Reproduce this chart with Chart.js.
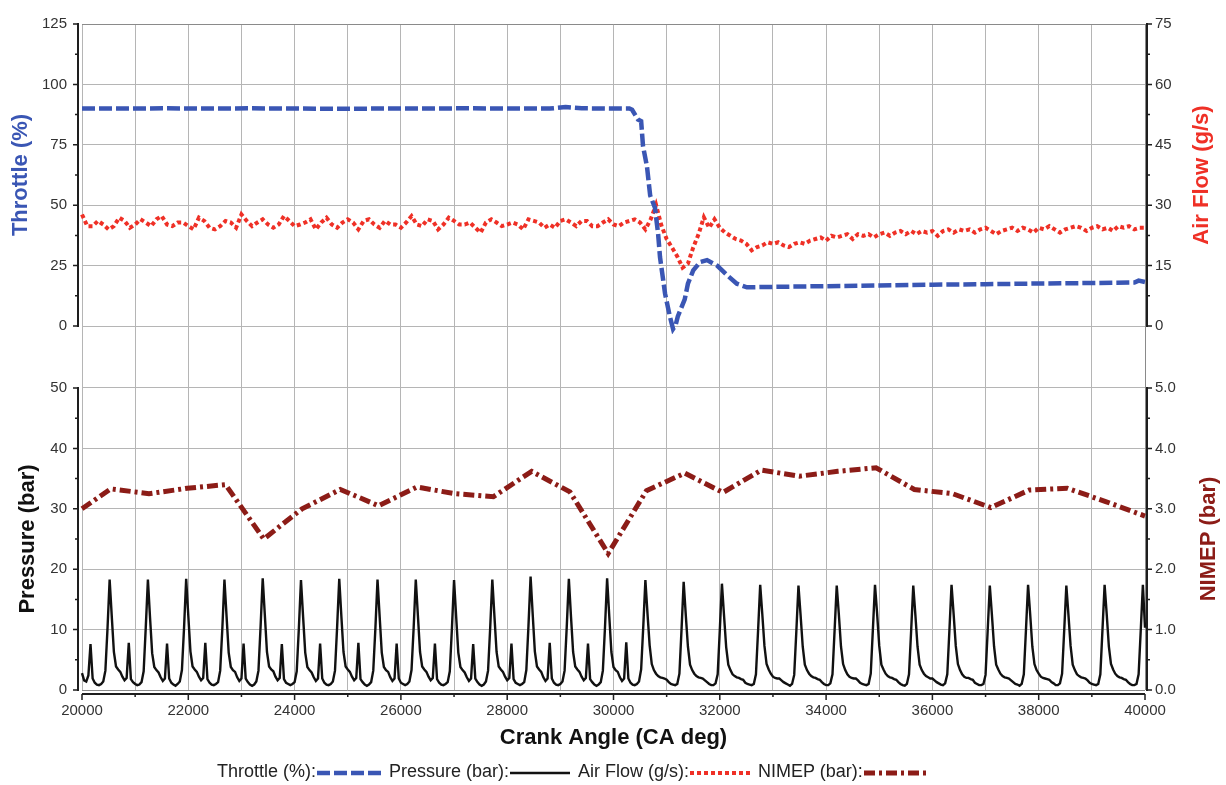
<!DOCTYPE html>
<html>
<head>
<meta charset="utf-8">
<title>Throttle transient</title>
<script src="https://cdn.jsdelivr.net/npm/chart.js@4.4.1/dist/chart.umd.min.js"></script>
<style>
  html, body { margin: 0; padding: 0; background: #fff; }
  #wrap { position: relative; width: 1226px; height: 785px; }
  #legend {
    position: absolute; left: 217px; top: 761px;
    display: flex; align-items: center; white-space: nowrap;
    font: 18px "Liberation Sans", Arial, sans-serif; color: #222;
  }
  #legend .item { display: flex; align-items: center; margin-right: 8px; }
  #legend svg { margin-left: 1px; }
</style>
</head>
<body>
<div id="wrap">
  <canvas id="engineChart" width="1226" height="785"></canvas>
  <div id="legend"></div>
</div>
<script>
// ---- data ----

// throttle (%) vs crank angle
const throttleAngles = [20000, 20800, 21600, 22400, 23200, 24000, 24800, 25600, 26400, 27200,
  28000, 28800, 29100, 29400, 30000, 30300, 30350, 30460, 30520, 30555,
  30630, 30690, 30780, 30840, 30875, 30970, 31060, 31120, 31170, 31210,
  31340, 31400, 31500, 31630, 31760, 31950, 32140, 32320, 32510, 33000,
  34000, 35000, 36000, 37000, 38000, 39000, 39800, 39880, 40000];
const throttleValues = [90.0, 90.0, 90.1, 90.0, 90.1, 90.0, 89.9, 90.0, 90.0, 90.1,
  90.0, 90.0, 90.6, 90.1, 90.0, 90.0, 89.5, 85.5, 84.8, 74.5,
  66.0, 54.0, 49.0, 38.0, 28.5, 13.4, 4.0, -1.2, 0.5, 4.0,
  11.0, 17.5, 23.0, 26.5, 27.3, 25.0, 21.0, 17.5, 16.0, 16.2,
  16.5, 16.8, 17.1, 17.3, 17.6, 17.8, 18.0, 18.8, 18.2];

// cylinder pressure (bar), one sample every 40 CA deg from 20000
const pressureStart = 20000;
const pressureStep = 40;
const pressureValues = [
  2.8, 1.6, 1.4, 2.4, 7.6,
  1.9, 1.2, 0.9, 0.8, 1.0, 1.4, 3.2, 10.2, 18.3, 12.2, 6.3, 3.9, 3.4, 3.0, 2.2, 1.6, 2.0, 7.8,
  1.8, 1.3, 1.0, 0.8, 0.9, 1.3, 3.1, 10.4, 18.3, 12.0, 6.1, 3.8, 3.3, 2.9, 2.1, 1.5, 1.9, 7.7,
  1.9, 1.2, 0.9, 0.7, 1.0, 1.4, 3.3, 10.3, 18.4, 12.3, 6.4, 3.9, 3.4, 3.0, 2.2, 1.6, 2.0, 7.8,
  1.8, 1.2, 0.9, 0.8, 1.0, 1.3, 3.2, 10.1, 18.3, 12.2, 6.2, 3.8, 3.3, 3.0, 2.1, 1.5, 1.9, 7.7,
  1.9, 1.3, 0.9, 0.7, 0.9, 1.4, 3.2, 10.5, 18.5, 12.4, 6.3, 3.9, 3.4, 3.1, 2.2, 1.6, 2.0, 7.6,
  1.8, 1.2, 1.0, 0.8, 1.0, 1.3, 3.1, 10.2, 18.2, 12.1, 6.2, 3.8, 3.3, 2.9, 2.1, 1.5, 1.9, 7.7,
  1.9, 1.2, 0.9, 0.8, 1.0, 1.4, 3.2, 10.4, 18.4, 12.2, 6.3, 3.9, 3.4, 3.0, 2.2, 1.6, 2.0, 7.8,
  1.8, 1.3, 0.9, 0.7, 0.9, 1.3, 3.2, 10.2, 18.3, 12.2, 6.2, 3.8, 3.3, 3.0, 2.1, 1.5, 1.9, 7.7,
  1.9, 1.2, 1.0, 0.8, 1.0, 1.4, 3.3, 10.3, 18.3, 12.3, 6.3, 3.9, 3.4, 3.0, 2.2, 1.6, 2.0, 7.7,
  1.8, 1.2, 0.9, 0.8, 1.0, 1.3, 3.1, 10.2, 18.2, 12.1, 6.2, 3.8, 3.3, 2.9, 2.1, 1.5, 1.9, 7.6,
  1.9, 1.3, 0.9, 0.7, 0.9, 1.4, 3.2, 10.3, 18.3, 12.2, 6.3, 3.9, 3.4, 3.0, 2.2, 1.6, 2.0, 7.7,
  1.8, 1.2, 1.0, 0.8, 1.0, 1.3, 3.3, 10.6, 18.8, 12.5, 6.4, 3.9, 3.4, 3.0, 2.1, 1.5, 1.9, 7.8,
  1.9, 1.2, 0.9, 0.8, 1.0, 1.4, 3.2, 10.4, 18.4, 12.2, 6.3, 3.9, 3.4, 3.0, 2.2, 1.6, 2.0, 7.7,
  1.8, 1.3, 0.9, 0.7, 0.9, 1.3, 3.2, 10.4, 18.5, 12.3, 6.3, 3.8, 3.3, 3.0, 2.1, 1.5, 1.9, 7.9,
  1.9, 1.2, 0.9, 0.8, 1.0, 1.4, 3.4, 10.5, 18.2, 12.6, 7.4, 4.3, 3.3, 2.7, 2.3, 2.1, 2.0, 1.9,
  1.7, 1.3, 1.0, 0.9, 0.8, 1.0, 2.7, 10.0, 17.9, 12.4, 7.2, 4.2, 3.3, 2.7, 2.3, 2.1, 2.0, 1.9,
  1.6, 1.3, 1.0, 0.8, 0.8, 1.1, 2.6, 9.9, 17.6, 12.3, 7.1, 4.2, 3.3, 2.6, 2.3, 2.1, 2.0, 1.8,
  1.7, 1.2, 1.0, 0.9, 0.8, 1.0, 2.6, 9.8, 17.4, 12.5, 7.3, 4.3, 3.4, 2.7, 2.2, 2.0, 1.9, 1.9,
  1.6, 1.3, 1.1, 0.9, 0.7, 1.0, 2.5, 9.7, 17.3, 12.4, 7.2, 4.2, 3.3, 2.7, 2.3, 2.1, 2.0, 1.8,
  1.7, 1.3, 1.0, 0.8, 0.8, 1.1, 2.6, 9.9, 17.3, 12.5, 7.2, 4.3, 3.3, 2.6, 2.2, 2.0, 1.9, 1.9,
  1.6, 1.2, 1.0, 0.9, 0.8, 1.0, 2.7, 10.0, 17.4, 12.6, 7.3, 4.2, 3.4, 2.7, 2.3, 2.1, 2.0, 1.8,
  1.7, 1.3, 1.0, 0.8, 0.7, 1.0, 2.6, 9.8, 17.3, 12.4, 7.2, 4.2, 3.3, 2.7, 2.3, 2.1, 1.9, 1.9,
  1.6, 1.3, 1.1, 0.9, 0.8, 1.1, 2.6, 9.9, 17.4, 12.5, 7.3, 4.3, 3.3, 2.6, 2.2, 2.0, 2.0, 1.8,
  1.7, 1.2, 1.0, 0.8, 0.8, 1.0, 2.5, 9.8, 17.3, 12.4, 7.2, 4.2, 3.4, 2.7, 2.3, 2.1, 2.0, 1.9,
  1.6, 1.3, 1.0, 0.9, 0.7, 1.0, 2.6, 9.9, 17.4, 12.5, 7.2, 4.3, 3.3, 2.7, 2.2, 2.0, 1.9, 1.8,
  1.7, 1.3, 1.1, 0.8, 0.8, 1.1, 2.7, 9.9, 17.3, 12.4, 7.3, 4.2, 3.3, 2.6, 2.3, 2.1, 2.0, 1.9,
  1.6, 1.2, 1.0, 0.9, 0.8, 1.0, 2.6, 10.0, 17.4, 12.5, 7.2, 4.3, 3.4, 2.7, 2.3, 2.1, 2.0, 1.8,
  1.7, 1.3, 1.0, 0.8, 0.8, 1.0, 2.6, 9.9, 17.4, 10.3
];

// air flow (g/s), one sample every 100 CA deg from 20000
const airflowStart = 20000;
const airflowStep = 100;
const airflowValues = [
  27.7, 24.8, 24.8, 26.1, 25.2, 24.0, 24.8, 26.9, 26.1, 24.4,
  25.2, 26.5, 25.7, 24.8, 26.5, 27.3, 25.2, 24.8, 25.7, 25.7,
  24.8, 24.0, 26.9, 26.1, 24.4, 24.0, 24.8, 26.1, 25.7, 24.4,
  27.7, 26.1, 24.8, 25.7, 26.5, 25.2, 24.4, 25.2, 27.3, 26.1,
  24.8, 25.2, 25.7, 26.5, 24.0, 25.7, 26.9, 25.2, 24.4, 25.7,
  26.5, 25.7, 24.0, 26.1, 26.5, 25.2, 24.4, 26.1, 25.2, 25.2,
  24.4, 25.7, 27.3, 25.2, 24.8, 26.5, 26.1, 24.0, 25.2, 26.9,
  26.1, 25.2, 25.2, 25.7, 24.4, 23.2, 25.7, 26.5, 25.7, 24.8,
  25.2, 25.7, 25.2, 24.0, 26.5, 26.1, 25.7, 24.4, 25.2, 24.4,
  26.1, 26.5, 25.7, 24.8, 26.1, 26.1, 24.8, 24.8, 25.7, 26.5,
  25.2, 24.8, 25.7, 26.1,
  26.5, 25.7, 24.0, 26.5, 30.1, 25.0, 21.6, 19.5, 17.3, 14.5,
  15.5, 19.5, 22.8, 27.0, 24.4, 26.5, 24.4, 23.2, 22.4, 21.6,
  21.2, 20.4, 18.8, 19.6, 20.0, 20.8, 20.4, 20.8, 20.0, 19.6,
  20.4, 20.8, 20.4, 21.2, 21.6, 22.0, 21.2, 22.4, 22.0, 22.4,
  22.8, 21.6, 22.8, 22.4, 22.8, 22.0, 22.8, 23.2, 22.4, 23.2,
  23.6, 22.8, 23.6, 22.8, 23.6, 23.2, 23.6, 22.4, 23.6, 24.0,
  23.2, 24.0, 23.6, 24.0, 23.2, 24.0, 24.4, 23.6, 22.8, 23.6,
  24.0, 24.4, 23.6, 24.4, 24.0, 23.2, 24.4, 24.0, 24.8, 24.0,
  23.2, 24.0, 24.4, 24.8, 24.4, 23.6, 24.4, 24.8, 24.0, 24.4,
  23.6, 24.8, 24.4, 24.8, 24.0, 24.4, 24.4
];

// NIMEP (bar), one value per engine cycle
const nimepAngles = [20000, 20540, 21260, 21980, 22700, 23420, 24140, 24860, 25580, 26300,
  27020, 27740, 28460, 29180, 29900, 30620, 31340, 32060, 32780, 33500,
  34220, 34940, 35660, 36380, 37100, 37820, 38540, 39260, 40000];
const nimepValues = [3.00, 3.33, 3.25, 3.34, 3.40, 2.50, 3.00, 3.32, 3.05, 3.36,
  3.25, 3.20, 3.62, 3.28, 2.26, 3.30, 3.59, 3.27, 3.64, 3.54,
  3.62, 3.68, 3.32, 3.25, 3.02, 3.31, 3.34, 3.12, 2.88];

// ---- styling ----
const FONT = '"Liberation Sans", Arial, Helvetica, sans-serif';
const BLUE = '#3a56b4';
const RED = '#ef3026';
const DARK_RED = '#8c1c17';
const GRID = '#b5b5b5';
const EDGE = '#8a8a8a';
const AXIS = '#1e1e1e';
const TICK_TEXT = '#333';

const tickFont = { family: FONT, size: 15 };
const titleFont = { family: FONT, size: 22, weight: 'bold' };

const toPoints = (xs, ys) => ys.map((y, i) => ({ x: xs[i], y }));
const pressureAngles = pressureValues.map((_, i) => pressureStart + i * pressureStep);
const airflowAngles = airflowValues.map((_, i) => airflowStart + i * airflowStep);

const series = [
  { label: 'Throttle (%)', axis: 'yThr', xs: throttleAngles, ys: throttleValues,
    color: BLUE, width: 4.5, dash: [13, 4] },
  { label: 'Pressure (bar)', axis: 'yPres', xs: pressureAngles, ys: pressureValues,
    color: '#111', width: 2.4, dash: [] },
  { label: 'Air Flow (g/s)', axis: 'yAir', xs: airflowAngles, ys: airflowValues,
    color: RED, width: 4, dash: [4, 3] },
  { label: 'NIMEP (bar)', axis: 'yNim', xs: nimepAngles, ys: nimepValues,
    color: DARK_RED, width: 5, dash: [11, 4, 3, 4] }
];

// axis lines with major/minor ticks, offset from the plot frame, plus the right titles
const axisFrame = {
  id: 'axisFrame',
  afterDraw(chart) {
    const { ctx, chartArea: area, scales } = chart;
    ctx.save();
    ctx.strokeStyle = AXIS;

    ['yThr', 'yPres', 'yAir', 'yNim'].forEach(id => {
      const s = scales[id];
      const onLeft = s.position === 'left';
      const x0 = onLeft ? area.left - 4 : area.right + 2;
      const dir = onLeft ? -1 : 1;
      const step = s.options.ticks.stepSize;
      ctx.lineWidth = 2;
      ctx.beginPath();
      ctx.moveTo(x0, s.getPixelForValue(s.max) - 1);
      ctx.lineTo(x0, s.getPixelForValue(s.min) + 1);
      ctx.stroke();
      ctx.lineWidth = 1.5;
      ctx.beginPath();
      for (let k = 0; k <= Math.round((s.max - s.min) / step) * 2; k++) {
        const y = s.getPixelForValue(s.min + k * step / 2);
        ctx.moveTo(x0, y);
        ctx.lineTo(x0 + dir * (k % 2 === 0 ? 5 : 3), y);
      }
      ctx.stroke();
    });

    const sx = scales.x;
    const y0 = area.bottom + 4;
    ctx.lineWidth = 2;
    ctx.beginPath();
    ctx.moveTo(area.left, y0);
    ctx.lineTo(area.right, y0);
    ctx.stroke();
    ctx.lineWidth = 1.5;
    ctx.beginPath();
    sx.ticks.forEach(t => {
      const x = sx.getPixelForValue(t.value);
      ctx.moveTo(x, y0);
      ctx.lineTo(x, y0 + (t.value % 2000 === 0 ? 6 : 3));
    });
    ctx.stroke();

    // right-hand titles read bottom to top, like the left ones
    [['yAir', 'Air Flow (g/s)', RED, 24], ['yNim', 'NIMEP (bar)', DARK_RED, 17]].forEach(([id, text, color, inset]) => {
      const s = scales[id];
      const cy = (s.getPixelForValue(s.max) + s.getPixelForValue(s.min)) / 2;
      ctx.save();
      ctx.translate(s.right - inset, cy);
      ctx.rotate(-Math.PI / 2);
      ctx.fillStyle = color;
      ctx.font = 'bold 22px ' + FONT;
      ctx.textAlign = 'center';
      ctx.textBaseline = 'middle';
      ctx.fillText(text, 0, 0);
      ctx.restore();
    });
    ctx.restore();
  }
};

const yScale = (extra) => Object.assign({
  type: 'linear',
  ticks: { color: TICK_TEXT, font: tickFont, autoSkip: false },
  grid: { display: false },
  border: { display: false }
}, extra);

const spacer = (position, stack, weight) => yScale({
  position, stack, stackWeight: 63, weight, min: 0, max: 1,
  ticks: { display: false },
  afterFit: s => { s.width = position === 'left' ? 82 : 81; }
});

const config = {
  type: 'line',
  data: {
    datasets: series.map(s => ({
      label: s.label,
      data: toPoints(s.xs, s.ys),
      xAxisID: 'x',
      yAxisID: s.axis,
      borderColor: s.color,
      backgroundColor: s.color,
      borderWidth: s.width,
      borderDash: s.dash,
      borderCapStyle: 'butt',
      pointRadius: 0,
      tension: 0,
      fill: false,
      clip: s.axis === 'yThr' ? 8 : 3
    }))
  },
  options: {
    responsive: false,
    animation: false,
    layout: { padding: { top: 13, bottom: 34, left: 0, right: 0 } },
    plugins: { legend: { display: false }, tooltip: { enabled: false } },
    scales: {
      x: {
        type: 'linear', position: 'bottom', min: 20000, max: 40000,
        ticks: {
          stepSize: 1000, autoSkip: false, maxRotation: 0, padding: 12,
          color: TICK_TEXT, font: tickFont,
          callback: v => (v % 2000 === 0 ? String(v) : '')
        },
        grid: { color: c => (c.tick && c.tick.value === 40000 ? EDGE : GRID), drawTicks: false },
        border: { display: false },
        title: { display: true, text: 'Crank Angle (CA deg)', color: '#111', font: titleFont, padding: 0 },
        afterFit: s => { s.height = 61; }
      },
      yThr: yScale({
        position: 'left', stack: 'L', stackWeight: 307, weight: 3, min: 0, max: 125,
        ticks: { stepSize: 25, padding: 15, color: TICK_TEXT, font: tickFont },
        grid: { color: c => (c.tick && c.tick.value === 125 ? EDGE : GRID), drawTicks: false },
        title: { display: true, text: 'Throttle (%)', color: BLUE, font: titleFont, padding: { top: 8, bottom: 0 } },
        afterFit: s => { s.width = 82; }
      }),
      ySpL: spacer('left', 'L', 2),
      yPres: yScale({
        position: 'left', stack: 'L', stackWeight: 307, weight: 1, min: 0, max: 50,
        ticks: { stepSize: 10, padding: 15, color: TICK_TEXT, font: tickFont },
        grid: { color: c => (c.tick && c.tick.value === 0 ? EDGE : GRID), drawTicks: false },
        title: { display: true, text: 'Pressure (bar)', color: '#111', font: titleFont, padding: { top: 15, bottom: 0 } },
        afterFit: s => { s.width = 82; }
      }),
      yAir: yScale({
        position: 'right', stack: 'R', stackWeight: 307, weight: 1, min: 0, max: 75,
        ticks: { stepSize: 15, padding: 10, color: TICK_TEXT, font: tickFont },
        grid: { display: false, drawTicks: false },
        afterFit: s => { s.width = 81; }
      }),
      ySpR: spacer('right', 'R', 2),
      yNim: yScale({
        position: 'right', stack: 'R', stackWeight: 307, weight: 3, min: 0, max: 5,
        ticks: { stepSize: 1, padding: 10, color: TICK_TEXT, font: tickFont, callback: v => v.toFixed(1) },
        grid: { display: false, drawTicks: false },
        afterFit: s => { s.width = 81; }
      })
    }
  },
  plugins: [axisFrame]
};

new Chart(document.getElementById('engineChart'), config);

// legend below the plot: "label:" followed by a line sample
const legend = document.getElementById('legend');
const sampleWidths = [64, 60, 60, 62];
series.forEach((s, i) => {
  const item = document.createElement('span');
  item.className = 'item';
  const text = document.createElement('span');
  text.textContent = s.label + ':';
  item.appendChild(text);
  const w = sampleWidths[i];
  const svgNS = 'http://www.w3.org/2000/svg';
  const svg = document.createElementNS(svgNS, 'svg');
  svg.setAttribute('width', w);
  svg.setAttribute('height', 12);
  const line = document.createElementNS(svgNS, 'line');
  line.setAttribute('x1', 0); line.setAttribute('y1', 7);
  line.setAttribute('x2', w); line.setAttribute('y2', 7);
  line.setAttribute('stroke', s.color);
  line.setAttribute('stroke-width', s.width);
  if (s.dash.length) line.setAttribute('stroke-dasharray', s.dash.join(' '));
  svg.appendChild(line);
  item.appendChild(svg);
  legend.appendChild(item);
});
</script>
</body>
</html>
